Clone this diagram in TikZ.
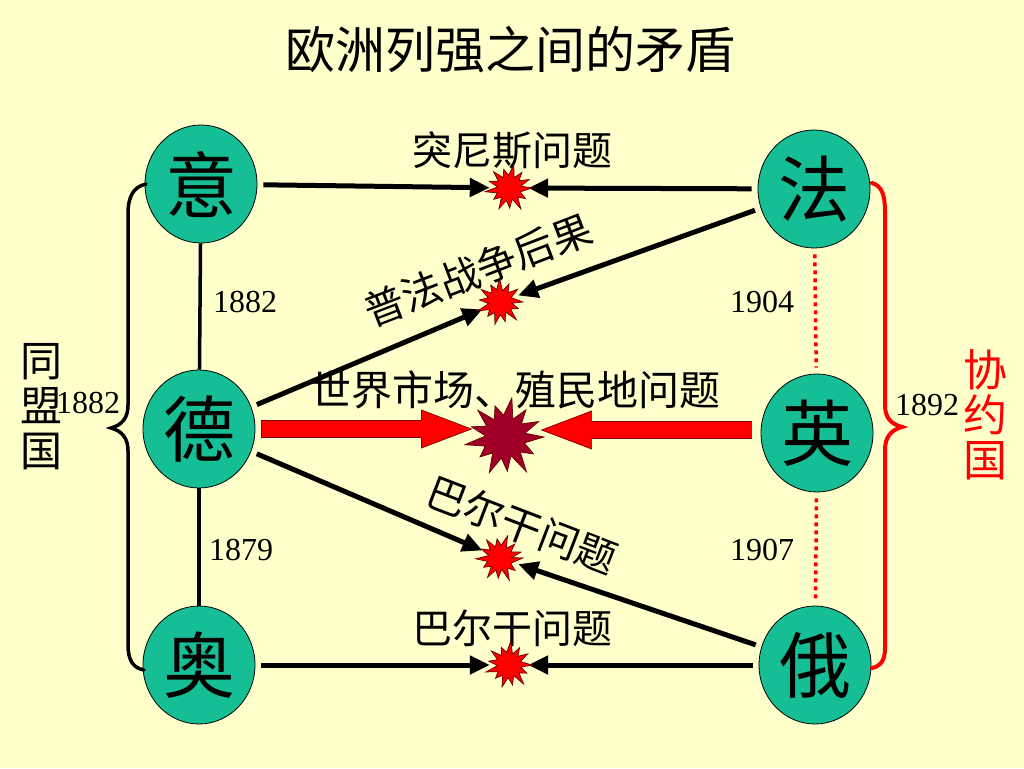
\documentclass[tikz,border=0pt]{standalone}
\usepackage{fontspec}
\setmainfont{Liberation Serif}
\newfontfamily\cjk{Noto Sans CJK SC}
\usetikzlibrary{shapes.geometric,arrows.meta}
\definecolor{bg}{RGB}{255,255,204}
\definecolor{teal}{RGB}{22,190,150}
\definecolor{darkstar}{RGB}{160,0,40}
\tikzset{
  pics/burst/.style n args={3}{code={
    \filldraw[fill=#1,draw=black!60!red,line width=0.7pt,line join=miter]
      (0:#2)
      \foreach \k/\f in {1/0.52,2/0.85,3/0.55,4/1.05,5/0.5,6/0.88,7/0.55,8/1.0,9/0.52,10/0.82,11/0.56,12/1.05,13/0.5,14/0.9,15/0.55,16/0.98,17/0.52,18/0.84,19/0.56,20/1.02,21/0.5,22/0.88,23/0.54,24/0.95,25/0.52}
        { -- ({\k*360/26+#3}:{\f*#2}) } -- cycle;
  }}
}
\begin{document}
\begin{tikzpicture}[x=1pt,y=-1pt,
  country/.style={ellipse,draw=black,line width=0.8pt,fill=teal,minimum width=112pt,minimum height=118pt,inner sep=0pt,font=\cjk\fontsize{72}{72}\selectfont},
  spot/.style={circle,minimum size=38pt,inner sep=0pt},
  bigspot/.style={circle,minimum size=70pt,inner sep=0pt},
  conn/.style={line width=5pt,-{Triangle[length=20pt,width=18pt]},shorten <=6pt},
  link/.style={line width=3.5pt},
  dotlink/.style={line width=3.5pt,red,dash pattern=on 4pt off 4pt},
  lbl/.style={font=\cjk\fontsize{40}{40}\selectfont,inner sep=0pt},
  year/.style={font=\fontsize{32}{32}\selectfont,inner sep=0pt}]
\fill[bg] (0,0) rectangle (1024,768);
\useasboundingbox (0,0) rectangle (1024,768);

\node[font=\cjk\fontsize{50}{50}\selectfont] (title) at (510,50) {欧洲列强之间的矛盾};

% countries
\node[country] (yi) at (201,184) {意};
\node[country] (fa) at (814,189) {法};
\node[country] (de) at (199,429) {德};
\node[country] (ying) at (817,433) {英};
\node[country] (ao) at (199,665) {奥};
\node[country] (e) at (815,665) {俄};

% star spots
\node[spot] (s1) at (509,188) {};
\node[spot] (s2) at (500,302) {};
\node[bigspot] (sb) at (505,437) {};
\node[spot] (s3) at (500,558) {};
\node[spot] (s4) at (509,665) {};

% labels
\node[lbl] (l1) at (512,150) {突尼斯问题};
\node[lbl,rotate=21] (l2) at (478,270) {普法战争后果};
\node[lbl,font=\cjk\fontsize{41}{41}\selectfont] (l3) at (515,390) {世界市场、殖民地问题};
\node[lbl,rotate=-21] (l4) at (522,525) {巴尔干问题};
\node[lbl] (l5) at (512,628) {巴尔干问题};

\node[year] (y1) at (245,302) {1882};
\node[year] (y2) at (762,302) {1904};
\node[year] (y3) at (241,550) {1879};
\node[year] (y4) at (762,550) {1907};
\node[year] (y5) at (88,403) {1882};
\node[year] (y6) at (927,405) {1892};

\node[font=\cjk\fontsize{42}{45}\selectfont,align=center,inner sep=0pt] (tm) at (41,407) {同\\盟\\国};
\node[font=\cjk\fontsize{44}{45}\selectfont,align=center,inner sep=0pt,text=red] (xy) at (985,415) {协\\约\\国};

% links between allies
\draw[link] (yi) -- (de);
\draw[link] (de) -- (ao);
\draw[dotlink,shorten <=6pt,shorten >=6pt] (fa) -- (ying);
\draw[dotlink,shorten <=6pt,shorten >=6pt] (ying) -- (e);

% black arrows
\draw[conn] (yi) -- (s1);
\draw[conn] (fa) -- (s1);
\draw[conn] (de) -- (s2);
\draw[conn] (fa) -- (s2);
\draw[conn] (de) -- (s3);
\draw[conn] (e) -- (s3);
\draw[conn] (ao) -- (s4);
\draw[conn] (e) -- (s4);

% red thick arrows
\filldraw[fill=red,draw=black!50!red,line width=0.7pt]
  (de.east) ++(6,-8.5) -- ++(160,0) -- ++(0,-10.5) -- ++(50,19) -- ++(-50,19) -- ++(0,-10.5) -- ++(-160,0) -- cycle;
\filldraw[fill=red,draw=black!50!red,line width=0.7pt]
  (ying.west) ++(-9,-11.5) -- ++(-160,0) -- ++(0,-10.5) -- ++(-50,19) -- ++(50,19) -- ++(0,-10.5) -- ++(160,0) -- cycle;

% star bursts
\pic at (s1) {burst={red}{23}{5}};
\pic at (s2) {burst={red}{23}{-8}};
\pic at (sb) {burst={darkstar}{39}{3}};
\pic at (s3) {burst={red}{23}{12}};
\pic at (s4) {burst={red}{23}{-3}};

% braces
\draw[line width=3.5pt,line cap=round]
  (146,184) .. controls (133,187) and (128,197) .. (128,214) -- (128,405)
  .. controls (128,418) and (122,425) .. (111,428)
  .. controls (122,431) and (128,438) .. (128,451) -- (128,645)
  .. controls (128,660) and (133,668) .. (144,670);
\draw[line width=4pt,line cap=round,red]
  (872,183) .. controls (882,186) and (885,195) .. (885,212) -- (885,405)
  .. controls (885,418) and (891,424) .. (902,427)
  .. controls (891,430) and (885,437) .. (885,450) -- (885,648)
  .. controls (885,660) and (881,666) .. (872,668);
\end{tikzpicture}
\end{document}
